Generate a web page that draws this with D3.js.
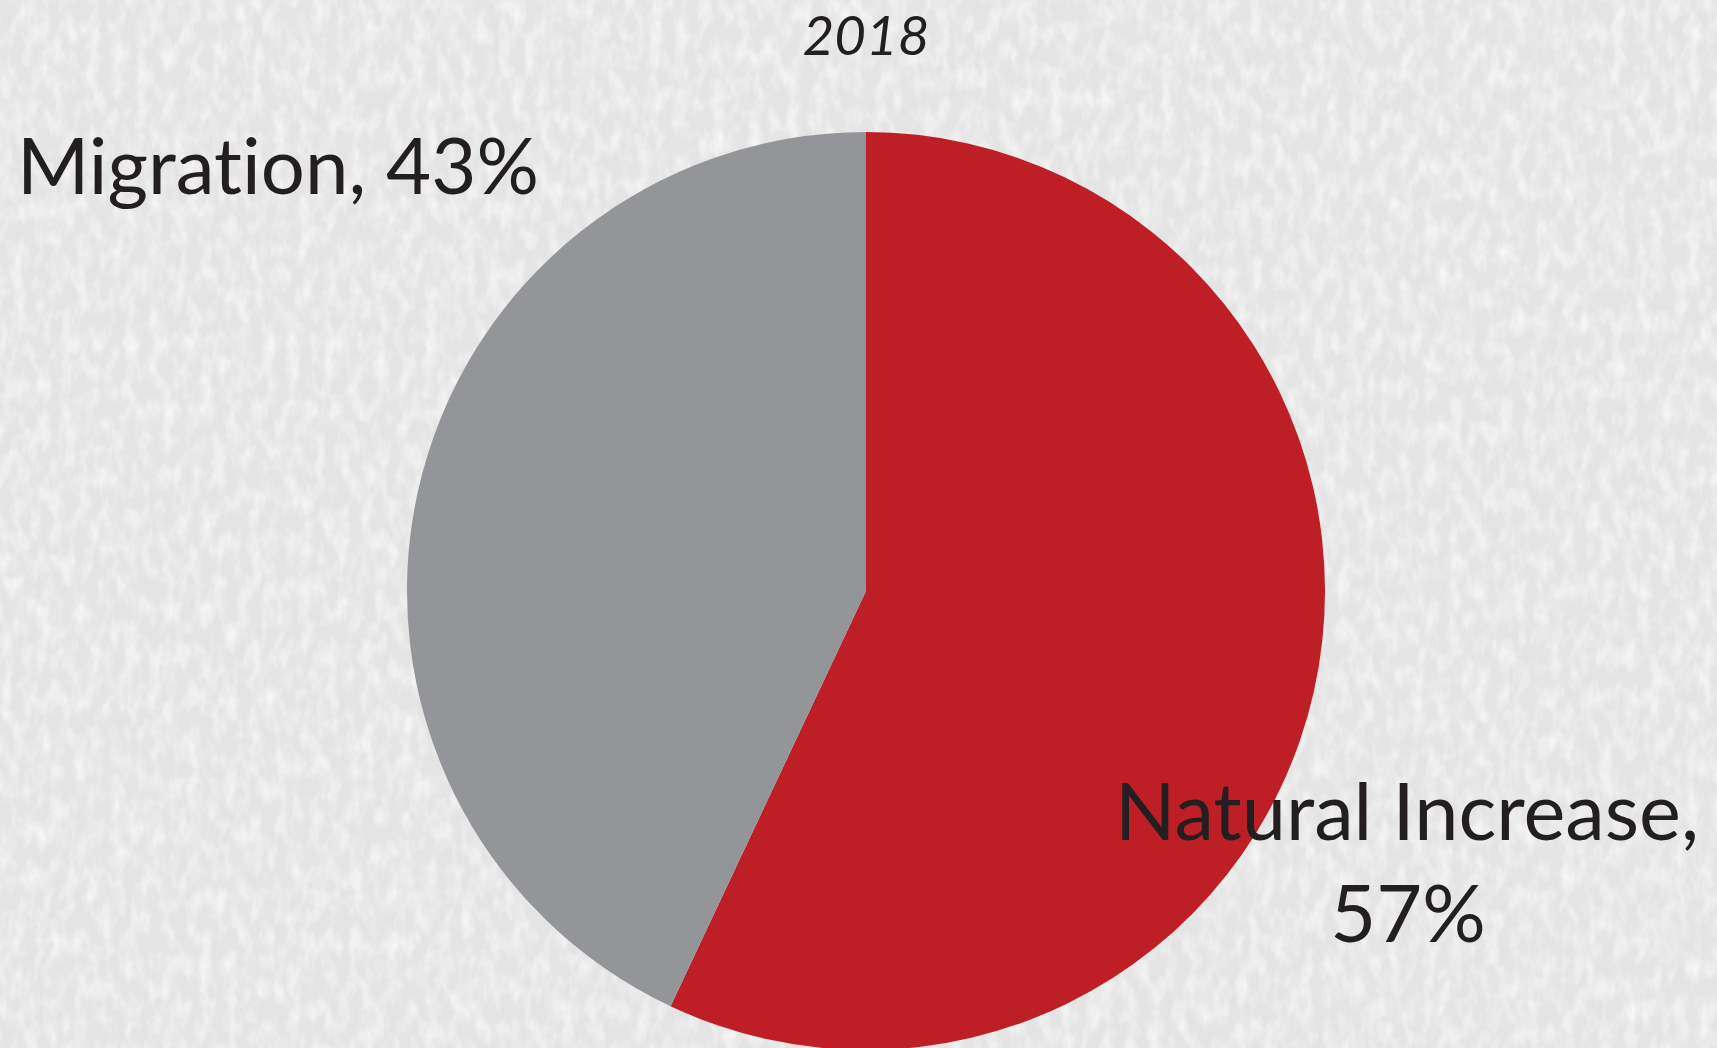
<!DOCTYPE html>
<html>
<head>
<meta charset="utf-8">
<script src="https://cdn.jsdelivr.net/npm/d3@7"></script>
<style>
  body { margin: 0; background: #ebebeb; overflow: hidden; }
  text { font-family: Lato, "Open Sans", sans-serif; fill: #231f20; font-variant-ligatures: none; }
</style>
</head>
<body>
<script>
var width = 1717,
    height = 1048;

// data
var categories = ["Natural Increase", "Migration"];
var shares = [57, 43];
var colors = ["#be1e26", "#939598"];
var title = "2018";

var svg = d3.select('body')
    .append('svg')
    .attr('width', width)
    .attr('height', height);

// paper texture
var defs = svg.append('defs');
var f = defs.append('filter').attr('id', 'paper')
    .attr('x', 0).attr('y', 0).attr('width', '100%').attr('height', '100%');
f.append('feTurbulence')
    .attr('type', 'fractalNoise')
    .attr('baseFrequency', '0.08 0.045')
    .attr('numOctaves', 3)
    .attr('seed', 4)
    .attr('result', 'noise');
f.append('feColorMatrix')
    .attr('type', 'matrix')
    .attr('values', '0 0 0 0 1  0 0 0 0 1  0 0 0 0 1  0 0 0 1.3 -0.5');

svg.append('rect')
    .attr('width', width).attr('height', height)
    .attr('fill', '#e4e4e4');
svg.append('rect')
    .attr('width', width).attr('height', height)
    .attr('filter', 'url(#paper)');

var cx = 866, cy = 591, r = 459;

var pie = d3.pie().sort(null).value(d => d)(shares);
var arc = d3.arc().innerRadius(0).outerRadius(r);

var g = svg.append('g').attr('transform', 'translate(' + cx + ',' + cy + ')');
g.selectAll('path')
    .data(pie)
    .enter()
    .append('path')
    .attr('fill', (d, i) => colors[i])
    .attr('d', arc);

// fit a text element's width by changing its font size
function fit(sel, w) {
    var len = sel.node().getComputedTextLength();
    var fs = parseFloat(sel.attr('font-size'));
    sel.attr('font-size', fs * w / len);
}

var t = svg.append('text')
    .attr('x', cx).attr('y', 55)
    .attr('text-anchor', 'middle')
    .attr('font-style', 'italic')
    .attr('font-size', 56)
    .text(title);
fit(t, 127);

var m = svg.append('text')
    .attr('x', 17).attr('y', 194)
    .attr('font-size', 80)
    .text(categories[1] + ', ' + shares[1] + '%');
fit(m, 522);

var n1 = svg.append('text')
    .attr('x', 1407).attr('y', 840)
    .attr('text-anchor', 'middle')
    .attr('font-size', 80)
    .text(categories[0] + ',');
fit(n1, 584);
svg.append('text')
    .attr('x', 1408).attr('y', 942)
    .attr('text-anchor', 'middle')
    .attr('font-size', n1.attr('font-size'))
    .text(shares[0] + '%');
</script>
</body>
</html>
